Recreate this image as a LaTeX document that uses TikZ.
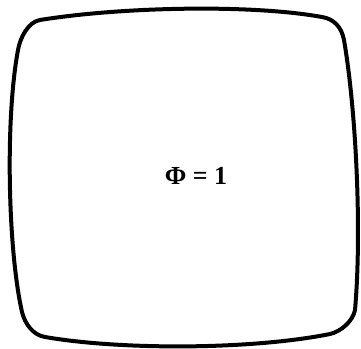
\documentclass[tikz,border=0pt]{standalone}
\usepackage{fontspec}
\setmainfont{Liberation Serif}
\begin{document}
\begin{tikzpicture}[x=1pt,y=-1pt]
        \useasboundingbox (0,0) rectangle (361,348);
        \coordinate (T1) at (40,20);
        \coordinate (T2) at (322,17);
        \coordinate (R1) at (344,40);
        \coordinate (R2) at (355,310);
        \coordinate (B1) at (330,334);
        \coordinate (B2) at (45,337);
        \coordinate (L1) at (22,312);
        \coordinate (L2) at (18,50);
        % Rounded outline, sides bulging outward
        \draw[line width=4pt,line join=round]
            (T1) .. controls (120,7) and (250,4) .. (T2)
                 .. controls (334,19) and (341.5,27) .. (R1)
                 .. controls (356,110) and (362,230) .. (R2)
                 .. controls (353,321) and (341,331.5) .. (B1)
                 .. controls (250,350) and (120,350) .. (B2)
                 .. controls (33,335) and (25,324) .. (L1)
                 .. controls (8,250) and (5,120) .. (L2)
                 .. controls (20,38) and (28,22) .. (T1) -- cycle;
        % Label
        \node[font=\fontsize{26}{30}\selectfont\bfseries] (phi) at (196,176) {Φ = 1};
    \end{tikzpicture}
\end{document}
